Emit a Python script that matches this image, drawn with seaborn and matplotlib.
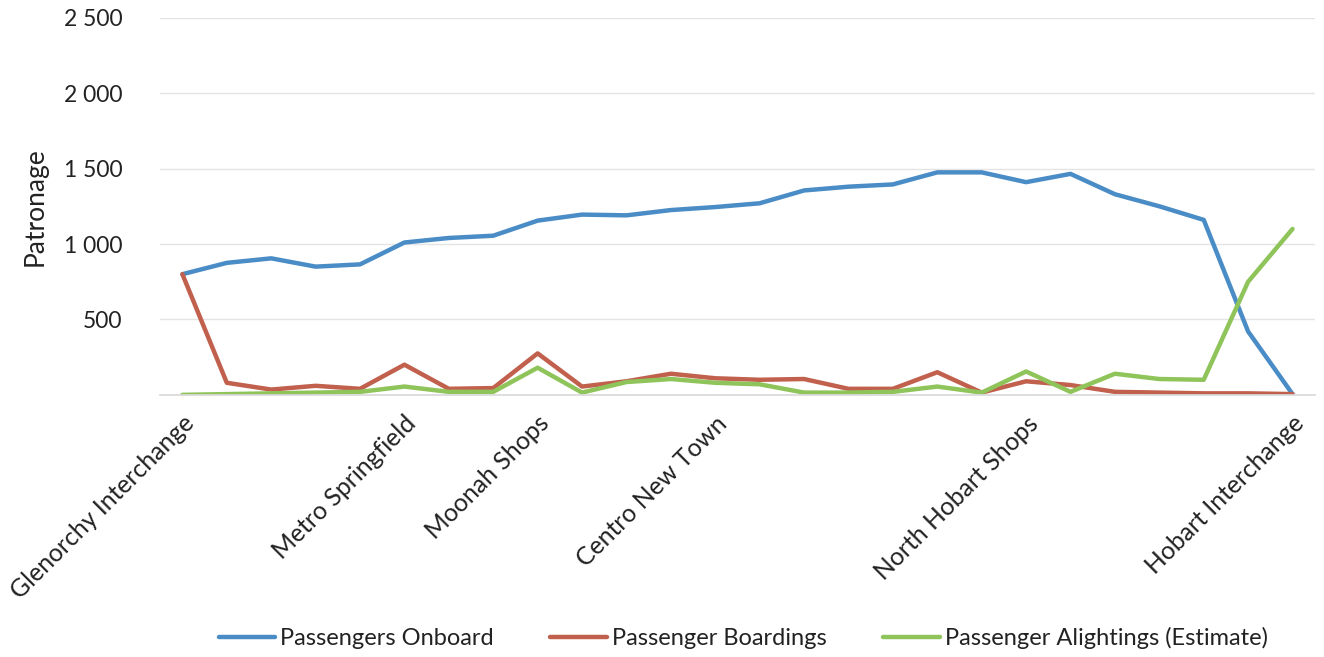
import numpy as np
import pandas as pd
import seaborn as sns
import matplotlib.pyplot as plt
from matplotlib.ticker import FuncFormatter

stop_labels = ["Glenorchy Interchange", "", "", "", "", "Metro Springfield", "", "",
               "Moonah Shops", "", "", "", "Centro New Town", "", "", "", "", "", "",
               "North Hobart Shops", "", "", "", "", "", "Hobart Interchange"]
onboard = [800, 875, 905, 850, 865, 1010, 1040, 1055, 1155, 1195, 1190, 1225, 1245,
           1270, 1355, 1380, 1395, 1475, 1475, 1410, 1465, 1330, 1250, 1160, 420, 5]
boardings = [800, 80, 35, 60, 40, 200, 40, 45, 275, 55, 90, 140, 110, 100, 105, 40,
             40, 150, 15, 90, 65, 20, 15, 10, 10, 5]
alightings = [0, 5, 10, 15, 20, 55, 20, 20, 180, 15, 85, 105, 80, 70, 15, 15, 20,
              55, 15, 155, 20, 140, 105, 100, 750, 1100]
series_names = ["Passengers Onboard", "Passenger Boardings", "Passenger Alightings (Estimate)"]
colors = ["#4A8CC6", "#C0604D", "#8FC45A"]

n = len(stop_labels)
df = pd.DataFrame({
    "stop": list(range(n)) * 3,
    "value": onboard + boardings + alightings,
    "series": [series_names[0]] * n + [series_names[1]] * n + [series_names[2]] * n,
})

sns.set_theme(style="white")
plt.rcParams["font.family"] = ["Lato", "DejaVu Sans"]

fig = plt.figure(figsize=(13.24, 6.57), dpi=100)
ax = fig.add_axes([0.121, 0.399, 0.872, 0.574])
sns.lineplot(data=df, x="stop", y="value", hue="series", palette=colors,
             hue_order=series_names, linewidth=3.2, ax=ax, legend=True)

ax.set_xlim(-0.5, n - 0.5)
ax.set_ylim(0, 2500)
ax.set_yticks([500, 1000, 1500, 2000, 2500])
ax.yaxis.set_major_formatter(FuncFormatter(lambda v, p: f"{int(v):,}".replace(",", " ")))
ax.grid(axis="y", color="#e4e4e4", linewidth=1)
for s in ["top", "right", "left"]:
    ax.spines[s].set_visible(False)
ax.spines["bottom"].set_color("#d9d9d9")
ax.tick_params(axis="y", length=0, labelsize=16.5, pad=27, labelcolor="#222222")

lab_pos = [i for i, s in enumerate(stop_labels) if s]
ax.set_xticks(lab_pos)
ax.set_xticklabels([stop_labels[i] for i in lab_pos], rotation=45, ha="right",
                   rotation_mode="anchor", fontsize=17.8, color="#222222")
ax.tick_params(axis="x", length=0, pad=12)
ax.set_xlabel("")
ax.set_ylabel("Patronage", fontsize=19, color="#222222", labelpad=12)

handles, labels = ax.get_legend_handles_labels()
ax.legend(handles, labels, loc="lower center", bbox_to_anchor=(0.505, -0.73),
          ncol=3, frameon=False, fontsize=17, handlelength=2.4, handletextpad=0.2,
          columnspacing=2.4, labelcolor="#222222")

fig.savefig("out.png", dpi=100, facecolor="white")
